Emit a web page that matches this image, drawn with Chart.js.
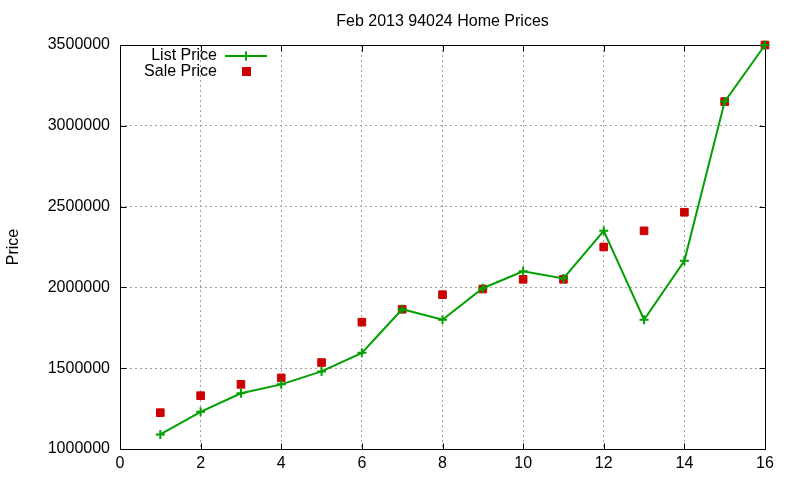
<!DOCTYPE html>
<html>
<head>
<meta charset="utf-8">
<script src="https://cdn.jsdelivr.net/npm/chart.js@4/dist/chart.umd.min.js"></script>
<style>
  html, body { margin: 0; padding: 0; background: #fff; }
  #wrap { width: 800px; height: 480px; }
</style>
</head>
<body>
<div id="wrap"><canvas id="homePrices" width="800" height="480"></canvas></div>
<script>
const chartTitle = "Feb 2013 94024 Home Prices";
const yTitle = "Price";
const houseIndex = [1, 2, 3, 4, 5, 6, 7, 8, 9, 10, 11, 12, 13, 14, 15, 16];
const listPrices = [1090000, 1230000, 1345000, 1400000, 1480000, 1595000, 1865000, 1800000,
  1995000, 2100000, 2055000, 2350000, 1800000, 2165000, 3150000, 3500000];
const salePrices = [1225000, 1330000, 1400000, 1440000, 1535000, 1785000, 1865000, 1955000,
  1990000, 2050000, 2050000, 2250000, 2350000, 2465000, 3150000, 3500000];
const xTickValues = [0, 2, 4, 6, 8, 10, 12, 14, 16];
const yTickValues = [1000000, 1500000, 2000000, 2500000, 3000000, 3500000];

const GREEN = "#00a000";
const RED = "#cc0000";
const FONT = '"Liberation Sans", Arial, sans-serif';

// gnuplot look: black frame, inward ticks, title and key drawn in the plot
const gnuplotFrame = {
  id: "gnuplotFrame",
  beforeDatasetsDraw(chart) {
    const { ctx, chartArea: a, scales } = chart;
    const L = Math.round(a.left) + 0.5, R = Math.round(a.right) + 0.5;
    const T = Math.round(a.top) + 0.5, B = Math.round(a.bottom) + 0.5;
    const tick = 6;
    ctx.save();
    ctx.strokeStyle = "#000";
    ctx.lineWidth = 1;
    ctx.strokeRect(L, T, R - L, B - T);
    ctx.beginPath();
    xTickValues.forEach((v) => {
      const x = Math.round(scales.x.getPixelForValue(v)) + 0.5;
      ctx.moveTo(x, B); ctx.lineTo(x, B - tick);
      ctx.moveTo(x, T); ctx.lineTo(x, T + tick);
    });
    yTickValues.forEach((v) => {
      const y = Math.round(scales.y.getPixelForValue(v)) + 0.5;
      ctx.moveTo(L, y); ctx.lineTo(L + tick, y);
      ctx.moveTo(R, y); ctx.lineTo(R - tick, y);
    });
    ctx.stroke();
    ctx.restore();
  },
  afterDraw(chart) {
    const { ctx, chartArea: a } = chart;
    ctx.save();
    ctx.fillStyle = "#000";
    ctx.font = "16px " + FONT;
    ctx.textBaseline = "middle";
    ctx.textAlign = "center";
    ctx.fillText(chartTitle, (a.left + a.right) / 2, 21.5);

    // key
    ctx.textAlign = "right";
    ctx.fillText(chart.data.datasets[0].label, 217, 56);
    ctx.fillText(chart.data.datasets[1].label, 217, 72);
    ctx.strokeStyle = GREEN;
    ctx.lineWidth = 2;
    ctx.beginPath();
    ctx.moveTo(225, 56); ctx.lineTo(267, 56);
    ctx.moveTo(246, 51.5); ctx.lineTo(246, 60.5);
    ctx.stroke();
    ctx.fillStyle = RED;
    ctx.fillRect(242, 67, 9, 9);
    ctx.restore();
  }
};

new Chart(document.getElementById("homePrices"), {
  type: "scatter",
  data: {
    datasets: [
      {
        label: "List Price",
        data: houseIndex.map((h, i) => ({ x: h, y: listPrices[i] })),
        showLine: true,
        borderColor: GREEN,
        backgroundColor: GREEN,
        borderWidth: 2,
        pointStyle: "cross",
        pointRadius: 4.5,
        pointBorderWidth: 2,
        tension: 0,
        clip: false,
      },
      {
        label: "Sale Price",
        data: houseIndex.map((h, i) => ({ x: h, y: salePrices[i] })),
        showLine: false,
        borderColor: RED,
        backgroundColor: RED,
        pointStyle: "rect",
        pointRadius: 5.4,
        pointBorderWidth: 1,
        clip: false,
      },
    ],
  },
  options: {
    responsive: false,
    animation: false,
    layout: { padding: { top: 45, right: 35, left: 0, bottom: 0 } },
    plugins: {
      legend: { display: false },
      title: { display: false },
      tooltip: { enabled: false },
    },
    scales: {
      x: {
        type: "linear",
        min: 0,
        max: 16,
        afterBuildTicks: (s) => { s.ticks = xTickValues.map((v) => ({ value: v })); },
        afterFit: (s) => { s.height = 31; },
        ticks: { color: "#000", padding: 5, font: { family: FONT, size: 16 } },
        grid: { color: "#a0a0a0", lineWidth: 1, drawTicks: false },
        border: { display: false, dash: [2, 3] },
      },
      y: {
        type: "linear",
        min: 1000000,
        max: 3500000,
        afterBuildTicks: (s) => { s.ticks = yTickValues.map((v) => ({ value: v })); },
        afterFit: (s) => { s.width = 120; },
        ticks: {
          color: "#000",
          padding: 10,
          font: { family: FONT, size: 16 },
          callback: (v) => String(v),
        },
        title: { display: true, text: yTitle, color: "#000", font: { family: FONT, size: 16 } },
        grid: { color: "#a0a0a0", lineWidth: 1, drawTicks: false },
        border: { display: false, dash: [2, 3] },
      },
    },
  },
  plugins: [gnuplotFrame],
});
</script>
</body>
</html>
